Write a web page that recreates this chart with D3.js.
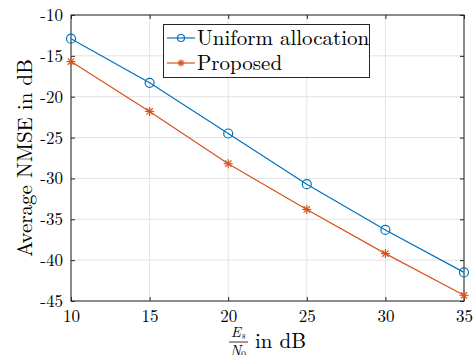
<!DOCTYPE html>
<html>
<head>
<meta charset="utf-8">
<script src="https://cdn.jsdelivr.net/npm/d3@7"></script>
<style>
  body { margin: 0; background: #fff; }
</style>
</head>
<body>
<svg width="473" height="355"></svg>
<script>
// data
var snr = [10, 15, 20, 25, 30, 35];
var uniform = [-12.9, -18.3, -24.5, -30.7, -36.3, -41.5];
var proposed = [-15.7, -21.8, -28.2, -33.8, -39.2, -44.3];
var xTicks = [10, 15, 20, 25, 30, 35];
var yTicks = [-10, -15, -20, -25, -30, -35, -40, -45];
var names = ["Uniform allocation", "Proposed"];

var font = "'Latin Modern Roman', 'Liberation Serif', serif";
var svg = d3.select("svg");
var mLeft = 71, mRight = 464, mTop = 15, mBottom = 301;

var x = d3.scaleLinear().domain([10, 35]).range([mLeft, mRight]);
var y = d3.scaleLinear().domain([-45, -10]).range([mBottom, mTop]);

// grid
svg.append("g").selectAll("line").data(xTicks).enter().append("line")
  .attr("x1", d => x(d)).attr("x2", d => x(d))
  .attr("y1", mTop).attr("y2", mBottom)
  .attr("stroke", "#e3e3e3").attr("stroke-width", 1);
svg.append("g").selectAll("line").data(yTicks).enter().append("line")
  .attr("x1", mLeft).attr("x2", mRight)
  .attr("y1", d => y(d)).attr("y2", d => y(d))
  .attr("stroke", "#e3e3e3").attr("stroke-width", 1);

// axes, ticks inward, box on
var tk = 4;
var fmt = d => String(d); // plain hyphen like the original
svg.append("g").attr("transform", "translate(0," + mBottom + ")")
  .call(d3.axisBottom(x).tickValues(xTicks).tickSizeInner(-tk).tickSizeOuter(0).tickPadding(9).tickFormat(fmt));
svg.append("g").attr("transform", "translate(0," + mTop + ")")
  .call(d3.axisTop(x).tickValues(xTicks).tickSizeInner(-tk).tickSizeOuter(0).tickFormat(""));
svg.append("g").attr("transform", "translate(" + mLeft + ",0)")
  .call(d3.axisLeft(y).tickValues(yTicks).tickSizeInner(-tk).tickSizeOuter(0).tickPadding(8).tickFormat(fmt));
svg.append("g").attr("transform", "translate(" + mRight + ",0)")
  .call(d3.axisRight(y).tickValues(yTicks).tickSizeInner(-tk).tickSizeOuter(0).tickFormat(""));
svg.selectAll(".domain").remove();
svg.selectAll(".tick line").attr("stroke", "#262626");
svg.selectAll(".tick text").style("font-family", font).style("font-size", "17px").attr("fill", "#000");
svg.append("rect").attr("x", mLeft).attr("y", mTop)
  .attr("width", mRight - mLeft).attr("height", mBottom - mTop)
  .attr("fill", "none").attr("stroke", "#262626").attr("stroke-width", 1);

// lines
var line = d3.line().x((d, i) => x(snr[i])).y(d => y(d));
var blue = "#0072bd", orange = "#d95319";

function star(g, cx, cy, r, col) {
  [0, 45, 90, 135].forEach(function(a) {
    var rad = a * Math.PI / 180;
    g.append("line")
      .attr("x1", cx - r * Math.cos(rad)).attr("y1", cy - r * Math.sin(rad))
      .attr("x2", cx + r * Math.cos(rad)).attr("y2", cy + r * Math.sin(rad))
      .attr("stroke", col).attr("stroke-width", 1.2);
  });
}

svg.append("path").datum(uniform).attr("d", line)
  .attr("fill", "none").attr("stroke", blue).attr("stroke-width", 1.2);
svg.append("g").selectAll("circle").data(uniform).enter().append("circle")
  .attr("cx", (d, i) => x(snr[i])).attr("cy", d => y(d)).attr("r", 4.5)
  .attr("fill", "none").attr("stroke", blue).attr("stroke-width", 1.2);

svg.append("path").datum(proposed).attr("d", line)
  .attr("fill", "none").attr("stroke", orange).attr("stroke-width", 1.2);
var sg = svg.append("g");
proposed.forEach(function(d, i) { star(sg, x(snr[i]), y(d), 4.5, orange); });

// legend
var lg = svg.append("g");
lg.append("rect").attr("x", 163.5).attr("y", 24.5).attr("width", 206).attr("height", 53)
  .attr("fill", "#fff").attr("stroke", "#262626").attr("stroke-width", 1);
[0, 1].forEach(function(k) {
  var cy = 38 + k * 25;
  var col = k === 0 ? blue : orange;
  lg.append("line").attr("x1", 167).attr("x2", 195).attr("y1", cy).attr("y2", cy)
    .attr("stroke", col).attr("stroke-width", 1.2);
  if (k === 0) {
    lg.append("circle").attr("cx", 181).attr("cy", cy).attr("r", 3.5)
      .attr("fill", "none").attr("stroke", col).attr("stroke-width", 1.2);
  } else {
    star(lg, 181, cy, 3.5, col);
  }
  lg.append("text").attr("x", 197).attr("y", cy + 7).style("font-family", font)
    .style("font-size", "21px").text(names[k]);
});

// axis labels
svg.append("text")
  .attr("transform", "translate(32," + ((mTop + mBottom) / 2) + ") rotate(-90)")
  .attr("text-anchor", "middle").style("font-family", font).style("font-size", "21px")
  .text("Average NMSE in dB");

var xl = svg.append("g").style("font-family", font);
xl.append("text").attr("x", 238).attr("y", 337).attr("text-anchor", "middle")
  .style("font-size", "15px").attr("font-style", "italic")
  .html('E<tspan font-size="10px" dy="2">s</tspan>');
xl.append("line").attr("x1", 229).attr("x2", 248).attr("y1", 342).attr("y2", 342)
  .attr("stroke", "#000").attr("stroke-width", 0.8);
xl.append("text").attr("x", 238).attr("y", 356).attr("text-anchor", "middle")
  .style("font-size", "15px").attr("font-style", "italic")
  .html('N<tspan font-size="10px" dy="2" font-style="normal">0</tspan>');
xl.append("text").attr("x", 255).attr("y", 348).style("font-size", "21px").text("in dB");
</script>
</body>
</html>
